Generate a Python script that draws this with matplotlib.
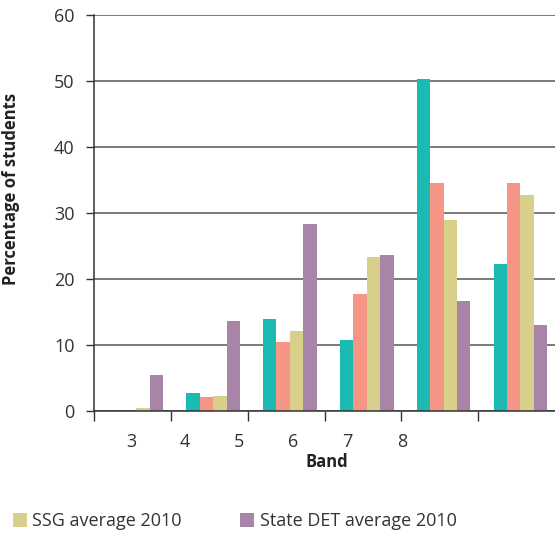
import numpy as np
import matplotlib
matplotlib.use("Agg")
import matplotlib.pyplot as plt

plt.rcParams["font.family"] = ["Open Sans", "DejaVu Sans"]

# Data
bands = ["3", "4", "5", "6", "7", "8"]
school_a = [0.0, 2.8, 13.9, 10.7, 50.3, 22.2]
school_b = [0.0, 2.1, 10.4, 17.8, 34.5, 34.5]
ssg_avg = [0.5, 2.3, 12.1, 23.3, 28.9, 32.8]
state_avg = [5.4, 13.6, 28.3, 23.6, 16.6, 13.0]

series = [
    (school_a, "#1bbbb4", None),
    (school_b, "#f59585", None),
    (ssg_avg, "#d8d08a", "SSG average 2010"),
    (state_avg, "#a885a6", "State DET average 2010"),
]

text_col = "#333333"
fig = plt.figure(figsize=(5.55, 5.34), dpi=100)
ax = fig.add_axes([94 / 555, 123 / 534, 1 - 94 / 555, 396 / 534])

x = np.arange(len(school_a))
width = 0.175
handles = []
for k, (vals, color, label) in enumerate(series):
    b = ax.bar(x + (k - 1.5) * width, vals, width, color=color, zorder=3,
               label=label)
    if label:
        handles.append(b)

ax.set_xlim(-0.55, 5.45)
ax.set_ylim(0, 60)
ax.set_yticks(range(0, 61, 10))
ax.yaxis.grid(True, color="#555555", linewidth=1.1, zorder=1)
ax.tick_params(axis="y", length=6, width=1, color="#333333",
               labelsize=13, labelcolor=text_col, pad=8)

# group boundaries as major ticks, band labels as minor ticks
ax.set_xticks(np.arange(6) - 0.55)
ax.set_xticklabels([])
ax.tick_params(axis="x", which="major", length=7, width=1, color="#333333")
ax.set_xticks(np.arange(6) * 0.705 - 0.07, minor=True)
ax.set_xticklabels(bands, minor=True)
ax.tick_params(axis="x", which="minor", length=0, labelsize=13,
               labelcolor=text_col, pad=16)

for s in ["top", "right"]:
    ax.spines[s].set_visible(False)
for s in ["left", "bottom"]:
    ax.spines[s].set_color("#333333")
    ax.spines[s].set_linewidth(1.1)
    ax.spines[s].set_zorder(4)

ax.set_xlabel("Band", fontsize=12, fontweight="bold", color="#222222")
ax.xaxis.set_label_coords((327 - 94) / 461, -(453 - 411) / 396)
ax.set_ylabel("Percentage of students", fontsize=12, fontweight="bold",
              color="#222222")
ax.yaxis.set_label_coords((20 - 94) / 461, (411 - 189) / 396)

fig.legend(handles=handles, loc="lower left",
           bbox_to_anchor=(3.6 / 555, -5 / 534),
           ncol=2, frameon=False, fontsize=13, handlelength=0.8,
           handleheight=0.8, handletextpad=0.3, columnspacing=3.2,
           borderpad=0, labelcolor=text_col)

fig.savefig("out.png", dpi=100)
